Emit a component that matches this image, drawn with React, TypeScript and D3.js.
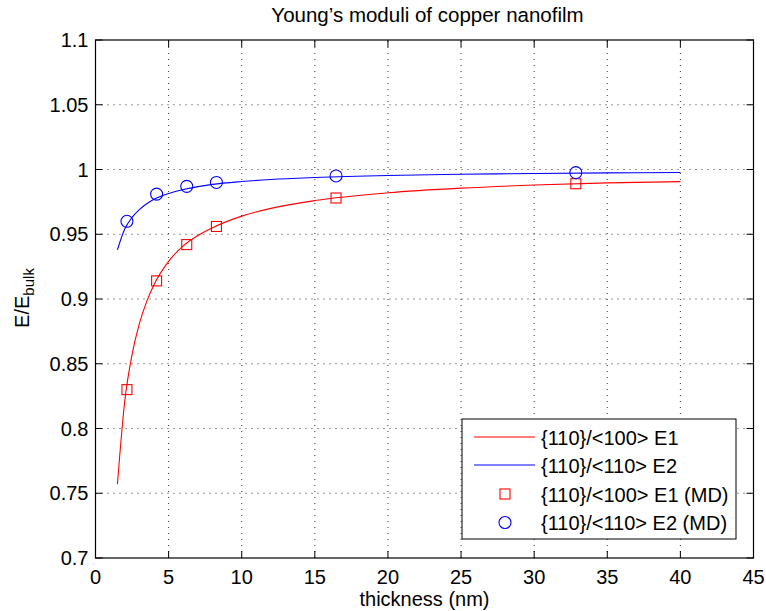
import React from "react";
import * as d3 from "d3";

const xTicks = [0, 5, 10, 15, 20, 25, 30, 35, 40, 45];
const yTicks = [0.7, 0.75, 0.8, 0.85, 0.9, 0.95, 1, 1.05, 1.1];

// fitted curves
const e1CurveX = [1.5, 2, 2.5, 3, 3.5, 4, 5, 6, 7, 8, 10, 12, 15, 20, 25, 30, 35, 40];
const e1CurveY = [0.757, 0.821, 0.857, 0.881, 0.898, 0.911, 0.929, 0.941, 0.949, 0.955, 0.964, 0.970, 0.976, 0.982, 0.9856, 0.988, 0.9897, 0.9906];
const e2CurveX = [1.5, 2, 2.5, 3, 3.5, 4, 5, 6, 7, 8, 10, 12, 15, 20, 25, 30, 35, 40];
const e2CurveY = [0.938, 0.954, 0.963, 0.969, 0.9735, 0.977, 0.9815, 0.9845, 0.9868, 0.9885, 0.9907, 0.9923, 0.9938, 0.9954, 0.9963, 0.9969, 0.9974, 0.9977];

// MD points
const mdX = [2.15, 4.18, 6.24, 8.27, 16.45, 32.85];
const e1MD = [0.830, 0.914, 0.942, 0.956, 0.978, 0.989];
const e2MD = [0.960, 0.981, 0.987, 0.990, 0.995, 0.9976];

const legendLabels = ["{110}/<100> E1", "{110}/<110> E2", "{110}/<100> E1 (MD)", "{110}/<110> E2 (MD)"];

const W = 766, H = 611;
const L = 95.5, R = 753.5, T = 40, B = 558;
const FONT = "'Liberation Sans', Arial, Helvetica, sans-serif";

export default function App() {
  const x = d3.scaleLinear().domain([0, 45]).range([L, R]);
  const y = d3.scaleLinear().domain([0.7, 1.1]).range([B, T]);
  const line = d3.line<[number, number]>().x(d => x(d[0])).y(d => y(d[1])).curve(d3.curveMonotoneX);
  const e1 = line(e1CurveX.map((v, i) => [v, e1CurveY[i]]) as [number, number][]) || "";
  const e2 = line(e2CurveX.map((v, i) => [v, e2CurveY[i]]) as [number, number][]) || "";
  const red = "#ff0000", blue = "#0000ff";
  const tl = 7;
  const lx = 462, ly = 419, lw = 274, lh = 120;
  const rows = [437, 465, 494, 522.5];
  const fs = 20;
  return (
    <svg width={W} height={H} style={{ position: "absolute", left: 0, top: 0 }} fontFamily={FONT}>
      <rect width={W} height={H} fill="#fff" />
      {/* grid */}
      {xTicks.slice(1, -1).map(t => (
        <line key={"gx" + t} x1={x(t)} x2={x(t)} y1={B} y2={T} stroke="#333" strokeWidth={1} strokeDasharray="1,5" />
      ))}
      {yTicks.slice(1, -1).map(t => (
        <line key={"gy" + t} x1={L} x2={R} y1={y(t)} y2={y(t)} stroke="#333" strokeWidth={1} strokeDasharray="1,5" />
      ))}
      {/* ticks */}
      {xTicks.map(t => (
        <g key={"tx" + t}>
          <line x1={x(t)} x2={x(t)} y1={B} y2={B - tl} stroke="#000" />
          <line x1={x(t)} x2={x(t)} y1={T} y2={T + tl} stroke="#000" />
          <text x={x(t)} y={584} textAnchor="middle" fontSize={fs}>{t}</text>
        </g>
      ))}
      {yTicks.map(t => (
        <g key={"ty" + t}>
          <line x1={L} x2={L + tl} y1={y(t)} y2={y(t)} stroke="#000" />
          <line x1={R} x2={R - tl} y1={y(t)} y2={y(t)} stroke="#000" />
          <text x={88.5} y={y(t) + 7} textAnchor="end" fontSize={fs}>{String(t)}</text>
        </g>
      ))}
      <rect x={L} y={T} width={R - L} height={B - T} fill="none" stroke="#000" strokeWidth={1.2} />
      {/* curves */}
      <path d={e1} fill="none" stroke={red} strokeWidth={1.1} />
      <path d={e2} fill="none" stroke={blue} strokeWidth={1.1} />
      {mdX.map((v, i) => (
        <rect key={"s" + i} x={x(v) - 5} y={y(e1MD[i]) - 5} width={10} height={10} fill="none" stroke={red} strokeWidth={1.1} />
      ))}
      {mdX.map((v, i) => (
        <circle key={"c" + i} cx={x(v)} cy={y(e2MD[i])} r={6} fill="none" stroke={blue} strokeWidth={1.1} />
      ))}
      {/* legend */}
      <rect x={lx} y={ly} width={lw} height={lh} fill="#fff" stroke="#000" strokeWidth={1} />
      <line x1={474} x2={535} y1={rows[0]} y2={rows[0]} stroke={red} strokeWidth={1.2} />
      <line x1={474} x2={535} y1={rows[1]} y2={rows[1]} stroke={blue} strokeWidth={1.2} />
      <rect x={500} y={rows[2] - 5} width={10} height={10} fill="none" stroke={red} strokeWidth={1.1} />
      <circle cx={505} cy={rows[3]} r={6} fill="none" stroke={blue} strokeWidth={1.1} />
      {legendLabels.map((s, i) => (
        <text key={"l" + i} x={541} y={rows[i] + 7.5} fontSize={fs}>{s}</text>
      ))}
      {/* labels */}
      <text x={(L + R) / 2 + 3} y={22} textAnchor="middle" fontSize={20.5}>Young’s moduli of copper nanofilm</text>
      <text x={(L + R) / 2} y={606} textAnchor="middle" fontSize={fs}>thickness (nm)</text>
      <text transform={`translate(28.5, 298) rotate(-90)`} textAnchor="middle" fontSize={fs}>
        E/E<tspan fontSize={15} dy={5}>bulk</tspan>
      </text>
    </svg>
  );
}
